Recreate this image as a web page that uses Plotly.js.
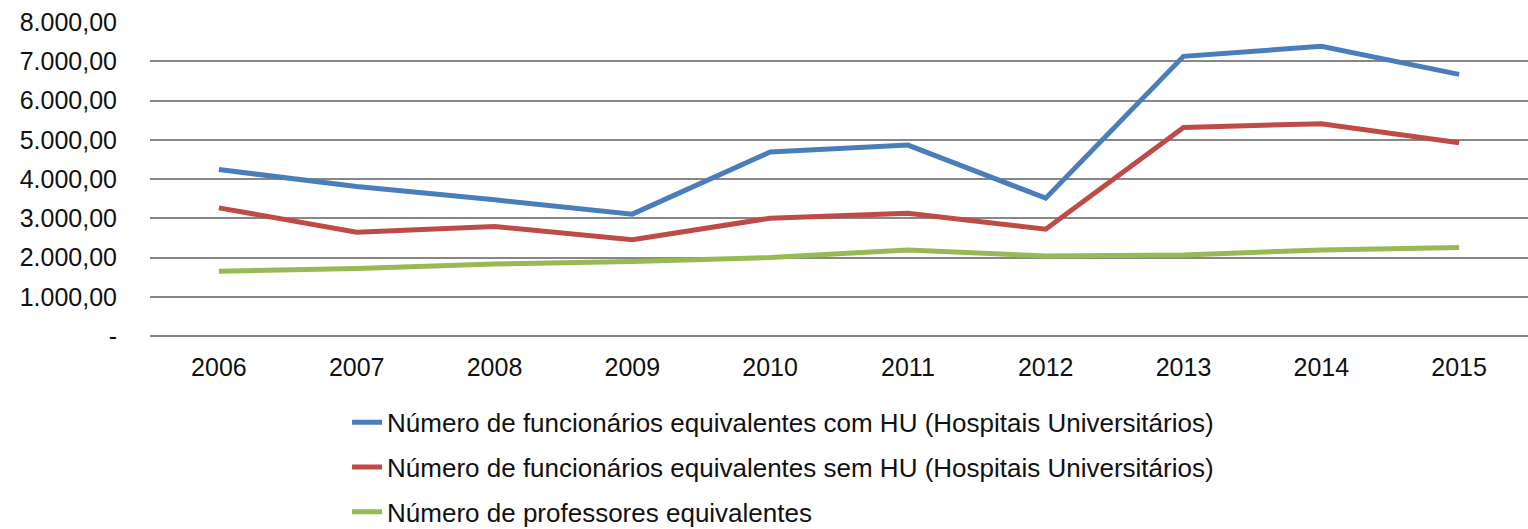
<!DOCTYPE html>
<html><head><meta charset="utf-8">
<script src="https://cdn.plot.ly/plotly-3.0.1.min.js"></script>
<style>html,body{margin:0;padding:0;background:#fff}#chart{width:1528px;height:529px}</style>
</head><body><div id="chart"></div>
<script>
const years = ['2006','2007','2008','2009','2010','2011','2012','2013','2014','2015'];
const comHU = [4240, 3810, 3470, 3105, 4686, 4864, 3512, 7125, 7380, 6666];
const semHU = [3265, 2645, 2790, 2450, 3002, 3130, 2722, 5314, 5408, 4923];
const professores = [1650, 1717, 1837, 1895, 1997, 2194, 2040, 2066, 2194, 2253];
const seriesNames = [
  'Número de funcionários equivalentes com HU (Hospitais Universitários)',
  'Número de funcionários equivalentes sem HU (Hospitais Universitários)',
  'Número de professores equivalentes'
];
const yTickVals = [0,1000,2000,3000,4000,5000,6000,7000,8000];
const yTickText = ['-','1.000,00','2.000,00','3.000,00','4.000,00','5.000,00','6.000,00','7.000,00','8.000,00'];

const colors = ['#4A7EBB','#BE4B48','#98B954'];
const data = [comHU, semHU, professores].map((v,i)=>({
  x: years, y: v, type:'scatter', mode:'lines', name: seriesNames[i],
  legendgroup: 'g'+i,
  line:{color:colors[i], width:5}
}));

const layout = {
  width:1528, height:529,
  margin:{l:150, r:0, t:22, b:193, autoexpand:false},
  paper_bgcolor:'#fff', plot_bgcolor:'#fff',
  font:{family:'Liberation Sans, Arial, sans-serif', color:'#111'},
  showlegend:true,
  legend:{orientation:'v', x:0.143, xanchor:'left', y:-0.2, yanchor:'top',
    traceorder:'grouped', tracegroupgap:8,
    font:{size:26, color:'#111'}, bgcolor:'rgba(0,0,0,0)'},
  xaxis:{type:'category', range:[-0.5, 9.5], showgrid:false, zeroline:false, showline:false,
    ticks:'', tickfont:{size:25}, ticklabelstandoff:14},
  yaxis:{range:[0,8000], tickvals:yTickVals, ticktext:yTickText,
    showgrid:true, gridcolor:'#878787', gridwidth:2, zeroline:true, zerolinecolor:'#878787', zerolinewidth:2,
    showline:false, ticks:'', tickfont:{size:25}, ticklabelstandoff:32}
};
Plotly.newPlot('chart', data, layout, {displayModeBar:false, staticPlot:true});
</script></body></html>
